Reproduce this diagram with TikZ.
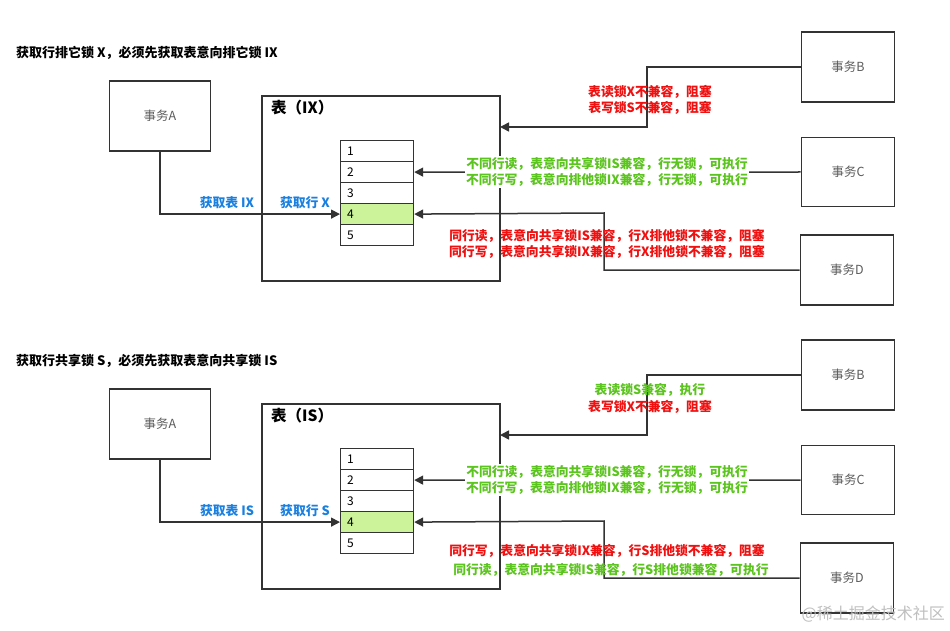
\documentclass[tikz,border=0pt]{standalone}
\usepackage{fontspec}
\setmainfont{Noto Sans CJK SC}
\usetikzlibrary{arrows.meta}
\definecolor{lred}{HTML}{F01010}
\definecolor{lgreen}{HTML}{5CC41E}
\definecolor{lblue}{HTML}{1A80E0}
\definecolor{rowg}{HTML}{CCF29A}
\definecolor{ln}{HTML}{333333}
\begin{document}
\begin{tikzpicture}[x=1pt,y=-1pt,
  box/.style={draw=ln,line width=1.6pt,inner sep=0pt},
  lbl/.style={font=\fontsize{12.5}{14}\selectfont\color{ln!80}},
  row/.style={draw=ln,line width=1.2pt,minimum width=73pt,minimum height=21pt,inner sep=0pt,text width=60pt,font=\fontsize{12}{14}\selectfont,anchor=north west},
  con/.style={draw=ln,line width=1.5pt},
  arr/.style={con,-{Triangle[length=9pt,width=9pt]}},
  txt/.style={font=\bfseries\fontsize{12.8}{16}\selectfont,align=center,inner sep=0pt},
  title/.style={font=\bfseries\fontsize{13}{15}\selectfont,anchor=west,inner sep=0pt}]
\useasboundingbox (0,0) rectangle (950,631);
\fill[white] (0,0) rectangle (950,631);
\foreach \oy/\tl/\tn/\ra/\pre in {0/{获取行排它锁 X，必须先获取表意向排它锁 IX}/IX/X/u,308/{获取行共享锁 S，必须先获取表意向共享锁 IS}/IS/S/v}{
\begin{scope}[yshift=-\oy pt]
\node[title] (t\pre) at (16,53) {\tl};
\node[box,minimum width=101pt,minimum height=70pt,lbl] (A\pre) at (160,116) {事务A};
\draw[con] (262,96) rectangle (500,281);
\node[font=\bfseries\fontsize{15.5}{17}\selectfont,anchor=west,inner sep=0pt] (TL\pre) at (271,108) {表（\tn）};
\node[row] (r1\pre) at (340,140) {1};
\node[row] (r2\pre) at (340,161) {2};
\node[row] (r3\pre) at (340,182) {3};
\node[row,fill=rowg] (r4\pre) at (340,203) {4};
\node[row] (r5\pre) at (340,224) {5};
\node[box,minimum width=93pt,minimum height=70pt,lbl] (B\pre) at (848,67) {事务B};
\node[box,minimum width=93pt,minimum height=69pt,lbl] (C\pre) at (848,172) {事务C};
\node[box,minimum width=93pt,minimum height=70pt,lbl] (D\pre) at (847,270) {事务D};
\coordinate (ta\pre) at (500,127);
\draw[arr] (A\pre.south) |- (r4\pre.west);
\node[txt,text=lblue] (ga\pre) at (227,203) {获取表 \tn};
\node[txt,text=lblue] (gb\pre) at (305,203) {获取行 \ra};
\draw[arr] (B\pre.west) -| (647,127) -- (ta\pre);
\draw[arr] (C\pre.west) -- (r2\pre.east);
\draw[arr] (D\pre.west) -| (604,213) -- (r4\pre.east);
\end{scope}}
% top labels
\node[txt,text=lred] (b1) at (650,100) {表读锁X不兼容，阻塞\\表写锁S不兼容，阻塞};
\node[txt,text=lgreen,fill=white,inner sep=1pt] (c1) at (607,172) {不同行读，表意向共享锁IS兼容，行无锁，可执行\\不同行写，表意向排他锁IX兼容，行无锁，可执行};
\node[txt,text=lred] (d1) at (607,244) {同行读，表意向共享锁IS兼容，行X排他锁不兼容，阻塞\\同行写，表意向共享锁IX兼容，行X排他锁不兼容，阻塞};
% bottom labels
\node[txt,text=lgreen] (b2) at (650,390) {表读锁S兼容，执行};
\node[txt,text=lred] (b3) at (650,407) {表写锁X不兼容，阻塞};
\node[txt,text=lgreen,fill=white,inner sep=1pt] (c2) at (607,480) {不同行读，表意向共享锁IS兼容，行无锁，可执行\\不同行写，表意向排他锁IX兼容，行无锁，可执行};
\node[txt,text=lred] (d2) at (607,551) {同行写，表意向共享锁IX兼容，行S排他锁不兼容，阻塞};
\node[txt,text=lgreen] (d3) at (611,570) {同行读，表意向共享锁IS兼容，行S排他锁兼容，可执行};
\node[font=\fontsize{16}{18}\selectfont,text=black!25,anchor=east,inner sep=0pt] (wm) at (945,614) {@稀土掘金技术社区};
\end{tikzpicture}
\end{document}
